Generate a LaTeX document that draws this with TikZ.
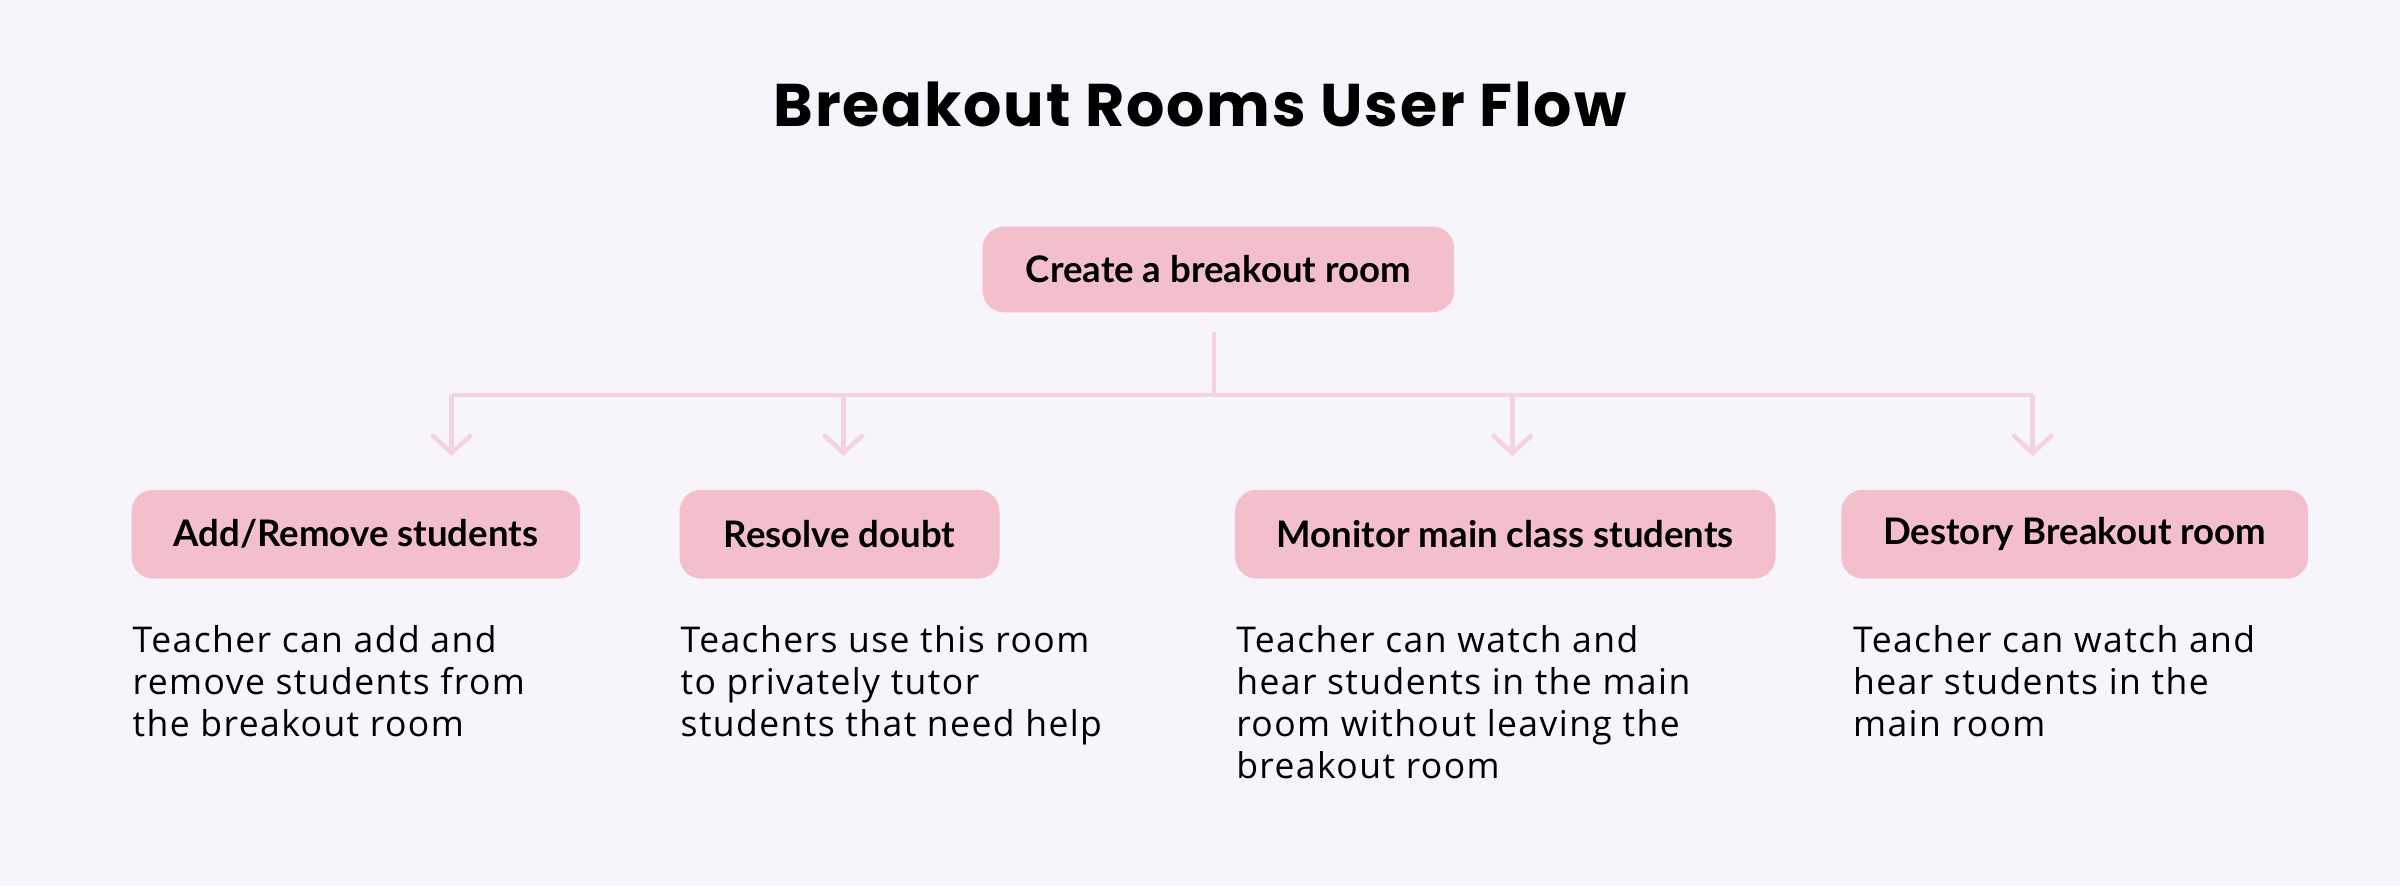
\documentclass[tikz,border=0pt]{standalone}
\usepackage{fontspec}
\setmainfont{Open Sans}[LetterSpace=4.0]
\newfontfamily\titlefont{Poppins}[LetterSpace=3.0]
\newfontfamily\boxfont{Lato}
\usetikzlibrary{arrows.meta,positioning}
\definecolor{bgcol}{HTML}{F7F4FB}
\definecolor{boxpink}{HTML}{F2BFCB}
\definecolor{linepink}{HTML}{F5D3DE}
\tikzset{
  stepbox/.style={draw=none, fill=boxpink, rounded corners=4pt, minimum height=0.58cm, font=\boxfont\bfseries\fontsize{6.8}{8}\selectfont, text=black},
  desc/.style={anchor=north west, align=left, inner sep=0pt, font=\fontsize{6.6}{7.8}\selectfont, text=black},
  link/.style={draw=linepink, line width=0.85pt},
  linkarrow/.style={link, -{Straight Barb[length=1.2mm, width=2.6mm, line width=0.85pt]}}
}
\begin{document}
\begin{tikzpicture}[x=1cm,y=-1cm]
	\fill[bgcol] (0,0) rectangle (15.68,5.79);
	\node (title) at (7.84,0.68) {\titlefont\bfseries\fontsize{11.2}{12}\selectfont Breakout Rooms User Flow};
	\node (create) [stepbox, minimum width=3.08cm, minimum height=0.56cm] at (7.96,1.76) {Create a breakout room};
	\node (add) [stepbox, minimum width=2.93cm] at (2.325,3.49) {Add/Remove students};
	\node (doubt) [stepbox, minimum width=2.09cm] at (5.485,3.49) {Resolve doubt};
	\node (monitor) [stepbox, minimum width=3.53cm] at (9.835,3.49) {Monitor main class students};
	\node (destroy) [stepbox, minimum width=3.05cm] at (13.555,3.49) {Destory Breakout room};
	\coordinate (hub) at (7.93,2.58);
	\coordinate (left) at (2.95,2.58);
	\coordinate (right) at (13.28,2.58);
	\draw[link] (7.93,2.17) -- (hub);
	\draw[link] (left) -- (right);
	\draw[linkarrow] (left) -- (2.95,2.98);
	\draw[linkarrow] (5.51,2.58) -- (5.51,2.98);
	\draw[linkarrow] (9.88,2.58) -- (9.88,2.98);
	\draw[linkarrow] (right) -- (13.28,2.98);
	\node (adddesc) [desc] at (0.86,4.08) {Teacher can add and\\remove students from\\the breakout room};
	\node (doubtdesc) [desc] at (4.44,4.08) {Teachers use this room\\to privately tutor\\students that need help};
	\node (monitordesc) [desc] at (8.07,4.08) {Teacher can watch and\\hear students in the main\\room without leaving the\\breakout room};
	\node (destroydesc) [desc] at (12.10,4.08) {Teacher can watch and\\hear students in the\\main room};
\end{tikzpicture}
\end{document}
